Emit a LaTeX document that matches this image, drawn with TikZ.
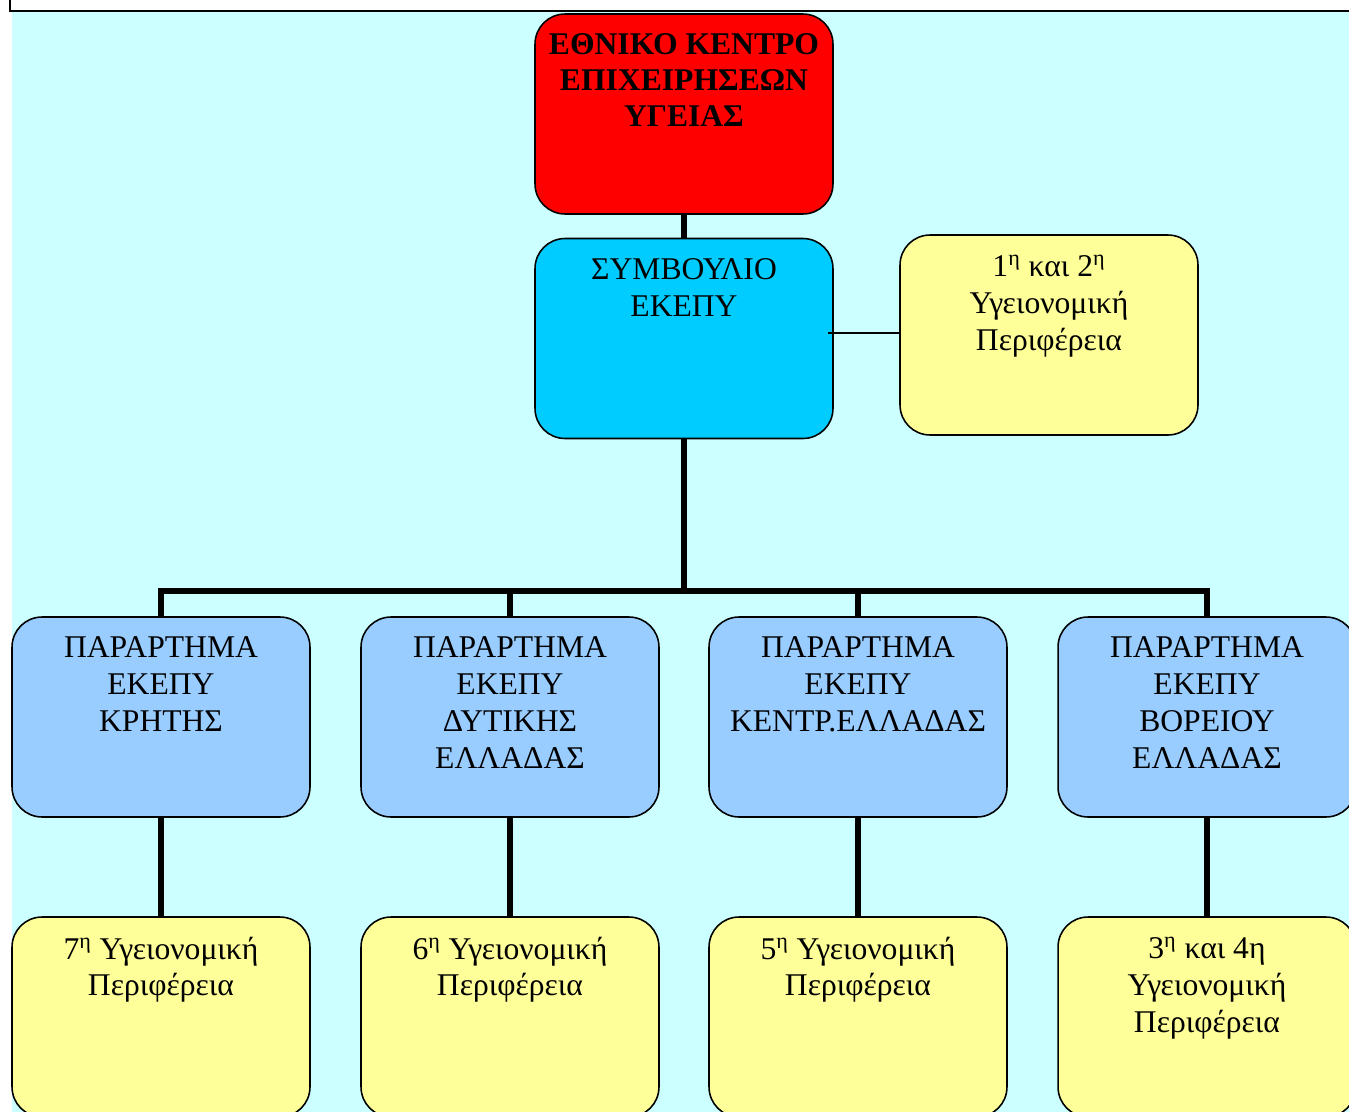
\documentclass[tikz,border=0pt]{standalone}
\usepackage{fontspec}
\setmainfont{Liberation Serif}
\usepackage{xcolor}
\usetikzlibrary{calc}

\definecolor{bgcyan}{RGB}{204,255,255}
\definecolor{ekred}{RGB}{255,0,0}
\definecolor{councilblue}{RGB}{0,204,255}
\definecolor{branchblue}{RGB}{153,204,255}
\definecolor{regyellow}{RGB}{255,255,153}

\tikzset{
  unit/.style={draw=black,line width=0.9pt,rounded corners=0.6cm,
    minimum width=5.96cm,minimum height=4cm,inner sep=0pt},
  boxtext/.style={anchor=north,yshift=-11.5pt,align=center,inner sep=0pt,
    font=\fontsize{18}{21}\selectfont},
  headtext/.style={boxtext,font=\fontsize{18}{20.5}\selectfont\bfseries},
  trunk/.style={line width=3.2pt},
}

\begin{document}
\begin{tikzpicture}[x=0.02cm,y=-0.02cm]
  \clip (0,0) rectangle (1349,1112);
  \fill[bgcyan] (12,12) rectangle (1349,1112);
  \draw[line width=1.5pt] (10,0) -- (10,11) -- (1349,11);

  % head and council
  \node[unit,fill=ekred,
    label={[headtext]north:ΕΘΝΙΚΟ ΚΕΝΤΡΟ\\ΕΠΙΧΕΙΡΗΣΕΩΝ\\ΥΓΕΙΑΣ}] (centre) at (684,114) {};
  \node[unit,fill=councilblue,
    label={[boxtext]north:ΣΥΜΒΟΥΛΙΟ\\ΕΚΕΠΥ}] (council) at (684,338.5) {};
  \node[unit,fill=regyellow,
    label={[boxtext]north:1\textsuperscript{η} και 2\textsuperscript{η}\\Υγειονομική\\Περιφέρεια}] (r12) at (1049,335) {};

  \draw[trunk] (centre.south) -- (council.north);
  \coordinate (tap) at (828,333);
  \draw[line width=0.9pt] (tap) -- (tap -| r12.west);

  \coordinate (hub) at (684,591);
  \draw[trunk] (council.south) -- (hub);

  % branches and their regions
  \foreach \i/\x/\lab/\reg in {
      1/161/{ΠΑΡΑΡΤΗΜΑ\\ΕΚΕΠΥ\\ΚΡΗΤΗΣ}/{7\textsuperscript{η} Υγειονομική\\Περιφέρεια},
      2/510/{ΠΑΡΑΡΤΗΜΑ\\ΕΚΕΠΥ\\ΔΥΤΙΚΗΣ\\ΕΛΛΑΔΑΣ}/{6\textsuperscript{η} Υγειονομική\\Περιφέρεια},
      3/858/{ΠΑΡΑΡΤΗΜΑ\\ΕΚΕΠΥ\\ΚΕΝΤΡ.ΕΛΛΑΔΑΣ}/{5\textsuperscript{η} Υγειονομική\\Περιφέρεια},
      4/1207/{ΠΑΡΑΡΤΗΜΑ\\ΕΚΕΠΥ\\ΒΟΡΕΙΟΥ\\ΕΛΛΑΔΑΣ}/{3\textsuperscript{η} και 4η\\Υγειονομική\\Περιφέρεια}}{
    \node[unit,fill=branchblue,label={[boxtext]north:\lab}] (b\i) at (\x,717) {};
    \node[unit,fill=regyellow,label={[boxtext]north:\reg}] (r\i) at (\x,1017) {};
    \draw[trunk] (b\i.south) -- (r\i.north);
    \draw[trunk] (b\i.north) |- (hub);
  }
\end{tikzpicture}
\end{document}
